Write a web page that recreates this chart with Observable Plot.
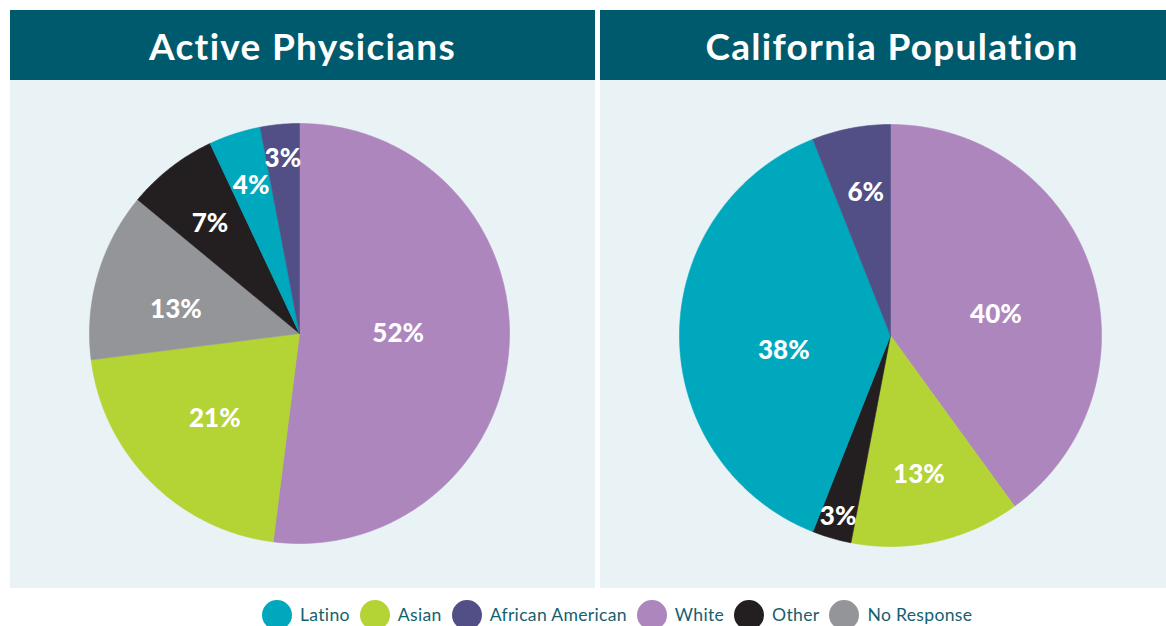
<!DOCTYPE html>
<html>
<head>
<meta charset="utf-8">
<script src="https://cdn.jsdelivr.net/npm/d3@7"></script>
<script src="https://cdn.jsdelivr.net/npm/@observablehq/plot@0.6"></script>
<style>
  html, body { margin: 0; padding: 0; background: #ffffff; }
  body { width: 1166px; height: 626px; position: relative; overflow: hidden; font-family: Lato, "Open Sans", sans-serif; }
  .header { position: absolute; top: 10px; height: 70px; background: #005a6d; color: #ffffff;
            font-family: Lato, sans-serif; font-weight: 700; font-size: 37px; display: flex;
            align-items: center; justify-content: center; letter-spacing: 1.3px; box-sizing: border-box; }
  .panel { position: absolute; top: 80px; }
  #legend { position: absolute; top: 598px; left: 262px; }
  .leg-swatches { margin: 0 !important; }
  .leg-swatch { margin-right: 10px !important; letter-spacing: 0.3px; }
  .leg-swatch > svg { border-radius: 50%; overflow: hidden !important; margin-right: 8px !important; }
</style>
</head>
<body>
<div class="header" style="left:10px;width:585px;">Active Physicians</div>
<div class="header" style="left:600px;width:566px;padding-left:18px;">California Population</div>
<div class="panel" id="p1" style="left:10px;"></div>
<div class="panel" id="p2" style="left:600px;"></div>
<div id="legend"></div>
<script>
// ---- data ----
const categories = ["Latino", "Asian", "African American", "White", "Other", "No Response"];
const titles = ["Active Physicians", "California Population"];
const physiciansGroups = ["White", "Asian", "No Response", "Other", "Latino", "African American"];
const physiciansValues = [52, 21, 13, 7, 4, 3];
const populationGroups = ["White", "Asian", "Other", "Latino", "African American"];
const populationValues = [40, 13, 3, 38, 6];

// ---- style / layout ----
const palette = ["#00a8be", "#b4d334", "#524f87", "#ac86bd", "#231f20", "#939598"];
const physLabelR = [0.47, 0.57, 0.60, 0.68, 0.745, 0.84];
const physLabelShift = [-4, 0, -5, -1, 0, 0];
const popLabelR = [0.51, 0.67, 0.89, 0.51, 0.69];
const popLabelShift = [6.5, 1, 0, -7.5, 1];

function pieData(groups, values, labelR, labelShift) {
  const total = d3.sum(values);
  let acc = 0;
  const pts = [], labels = [];
  groups.forEach((g, i) => {
    const a0 = acc / total * 2 * Math.PI;
    acc += values[i];
    const a1 = acc / total * 2 * Math.PI;
    const steps = Math.max(2, Math.ceil((a1 - a0) / (Math.PI / 360)));
    pts.push({group: g, x: 0, y: 0});
    for (let k = 0; k <= steps; k++) {
      const a = a0 + (a1 - a0) * k / steps;
      pts.push({group: g, x: Math.sin(a), y: Math.cos(a)});
    }
    pts.push({group: g, x: 0, y: 0});
    const am = (a0 + a1) / 2 + labelShift[i] * Math.PI / 180;
    labels.push({group: g, text: values[i] + "%", x: labelR[i] * Math.sin(am), y: labelR[i] * Math.cos(am)});
  });
  return {pts, labels};
}

function pie(groups, values, labelR, labelShift, w, cx, cy, R) {
  const {pts, labels} = pieData(groups, values, labelR, labelShift);
  return Plot.plot({
    width: w, height: 508,
    margin: 0,
    style: {background: "#e9f2f5", overflow: "visible"},
    x: {domain: [-1, 1], range: [cx - R, cx + R], axis: null},
    y: {domain: [-1, 1], range: [cy + R, cy - R], axis: null},
    color: {domain: categories, range: palette},
    marks: [
      Plot.line(pts, {x: "x", y: "y", z: "group", fill: "group", stroke: "group", strokeWidth: 0.6, curve: "linear"}),
      Plot.text(labels, {x: "x", y: "y", text: "text", fill: "white", fontSize: 26, fontWeight: "900",
        fontFamily: "Lato, sans-serif", textAnchor: "middle", dy: 1, letterSpacing: "0.8px"})
    ]
  });
}

document.getElementById("p1").append(pie(physiciansGroups, physiciansValues, physLabelR, physLabelShift, 585, 289, 253, 210));
document.getElementById("p2").append(pie(populationGroups, populationValues, popLabelR, popLabelShift, 566, 290, 255, 211));

document.getElementById("legend").append(Plot.legend({
  legend: "swatches",
  color: {type: "ordinal", domain: categories, range: palette},
  swatchSize: 30,
  className: "leg",
  style: {fontFamily: "Lato, sans-serif", fontSize: "17.6px", color: "#15606f", background: "transparent"}
}));
</script>
</body>
</html>
